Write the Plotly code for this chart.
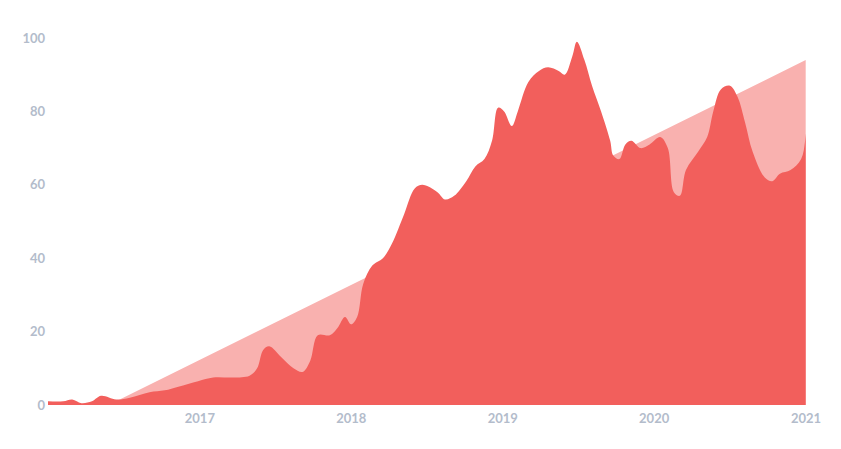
import pandas as pd
import plotly.graph_objects as go

# decimal years and values
yr = [2016.0, 2016.1, 2016.16, 2016.22, 2016.29, 2016.35, 2016.45, 2016.54, 2016.67, 2016.77,
      2016.86, 2016.99, 2017.09, 2017.22, 2017.33, 2017.38, 2017.42, 2017.46, 2017.54, 2017.62,
      2017.68, 2017.73, 2017.78, 2017.86, 2017.91, 2017.96, 2018.0, 2018.04, 2018.08, 2018.14,
      2018.21, 2018.27, 2018.35, 2018.42, 2018.47, 2018.57, 2018.62, 2018.68, 2018.76, 2018.82,
      2018.88, 2018.93, 2018.97, 2019.01, 2019.06, 2019.1, 2019.17, 2019.24, 2019.3, 2019.37,
      2019.41, 2019.46, 2019.49, 2019.54, 2019.59, 2019.65, 2019.71, 2019.73, 2019.77, 2019.81,
      2019.85, 2019.91, 2019.97, 2020.04, 2020.09, 2020.13, 2020.17, 2020.21, 2020.29, 2020.35,
      2020.39, 2020.44, 2020.5, 2020.55, 2020.6, 2020.65, 2020.73, 2020.78, 2020.83, 2020.9,
      2020.97, 2021.0]
val = [1, 1, 1.5, 0.5, 1, 2.5, 1.5, 2, 3.5, 4,
       5, 6.5, 7.5, 7.5, 8, 10, 15, 16, 13, 10,
       9, 12, 19, 19, 21, 24, 22, 24, 33, 38,
       40, 44, 52, 59, 60, 58, 56, 57, 61, 65,
       67, 72, 81, 80, 76, 80, 88, 91, 92, 91,
       90, 95, 99, 94, 87, 80, 72, 68, 67, 71,
       72, 70, 71, 73, 70, 58, 57, 64, 69, 73,
       80, 86, 87, 84, 77, 69, 62, 61, 63, 64,
       67, 74]
trend_yr = [2016.0, 2016.4, 2021.0]
trend_val = [0, 0, 94]
year_ticks = ["2017", "2018", "2019", "2020", "2021"]


def to_date(ys):
    return [pd.Timestamp("2016-01-01") + pd.Timedelta(days=(y - 2016) * 365.25) for y in ys]


fig = go.Figure()
fig.add_trace(go.Scatter(x=to_date(trend_yr), y=trend_val, mode="lines", fill="tozeroy",
                         line=dict(width=0, color="#f9b1af"), fillcolor="#f9b1af"))
fig.add_trace(go.Scatter(x=to_date(yr), y=val, mode="lines", fill="tozeroy",
                         line=dict(width=0, color="#f25f5c", shape="spline", smoothing=1),
                         fillcolor="#f25f5c"))

tickfont = dict(family="Lato", size=13, color="#b3bccb", weight="bold")
fig.update_layout(
    showlegend=False,
    paper_bgcolor="white", plot_bgcolor="white",
    margin=dict(l=40, r=21, t=30, b=36),
    xaxis=dict(range=["2016-01-01", "2021-01-01"], showgrid=False, zeroline=False,
               tickvals=[y + "-01-01" for y in year_ticks], ticktext=year_ticks,
               ticks="", tickfont=tickfont, ticklabelstandoff=4),
    yaxis=dict(range=[0, 100], showgrid=False, zeroline=False, dtick=20,
               tickfont=tickfont, ticks="", ticklabelstandoff=2),
)
fig.write_html("out.html")
